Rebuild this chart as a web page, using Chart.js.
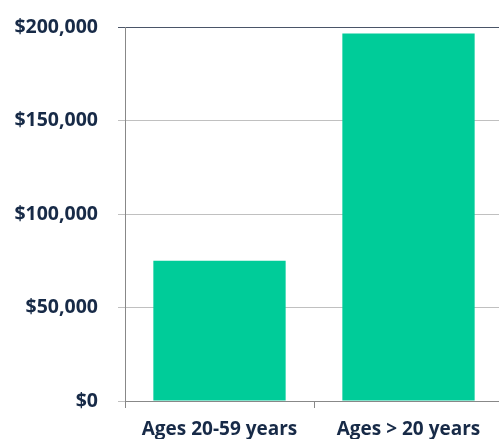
<!DOCTYPE html>
<html>
<head>
<meta charset="utf-8">
<script src="https://cdn.jsdelivr.net/npm/chart.js@4"></script>
<style>
html,body{margin:0;padding:0;background:#fff;overflow:hidden;width:499px;height:439px;}
#wrap{position:absolute;left:0;top:0;width:503px;height:439px;}
</style>
</head>
<body>
<div id="wrap"><canvas id="c" width="503" height="439"></canvas></div>
<script>
const categories = ["Ages 20-59 years", "Ages > 20 years"];
const costValues = [75000, 196500];
const yTickValues = [0, 50000, 100000, 150000, 200000];

const textColor = "#172a47";
const fontFamily = "'Open Sans', 'DejaVu Sans', sans-serif";

new Chart(document.getElementById("c"), {
  type: "bar",
  data: {
    labels: categories,
    datasets: [{
      data: costValues,
      backgroundColor: "#00cc99",
      borderWidth: 0,
      barPercentage: 0.7,
      categoryPercentage: 1.0
    }]
  },
  options: {
    responsive: false,
    animation: false,
    layout: { padding: { top: 27, right: 0, left: 0, bottom: 0 } },
    plugins: { legend: { display: false }, tooltip: { enabled: false } },
    scales: {
      x: {
        offset: true,
        grid: {
          offset: true,
          drawOnChartArea: false,
          drawTicks: true,
          tickLength: 7,
          color: "#888888"
        },
        border: { display: true, color: "#888888", width: 1 },
        ticks: {
          color: textColor,
          padding: 10,
          maxRotation: 0,
          font: { family: fontFamily, size: 19, weight: "bold" }
        },
        afterFit: (s) => { s.height = 38; s.paddingLeft = 0; s.paddingRight = 0; }
      },
      y: {
        min: 0,
        max: 200000,
        afterBuildTicks: (s) => { s.ticks = yTickValues.map(v => ({ value: v })); },
        grid: {
          color: (ctx) => ctx.tick && ctx.tick.value === 200000 ? "#4a5568" : "#c0c0c0",
          lineWidth: 1,
          drawTicks: true,
          tickLength: 7
        },
        border: { display: true, color: "#888888", width: 1 },
        ticks: {
          color: textColor,
          padding: 20,
          font: { family: fontFamily, size: 19.5, weight: "bold" },
          callback: (v) => "$" + Number(v).toLocaleString("en-US")
        },
        afterFit: (s) => { s.width = 125; s.paddingTop = 0; s.paddingBottom = 0; }
      }
    }
  }
});
</script>
</body>
</html>
